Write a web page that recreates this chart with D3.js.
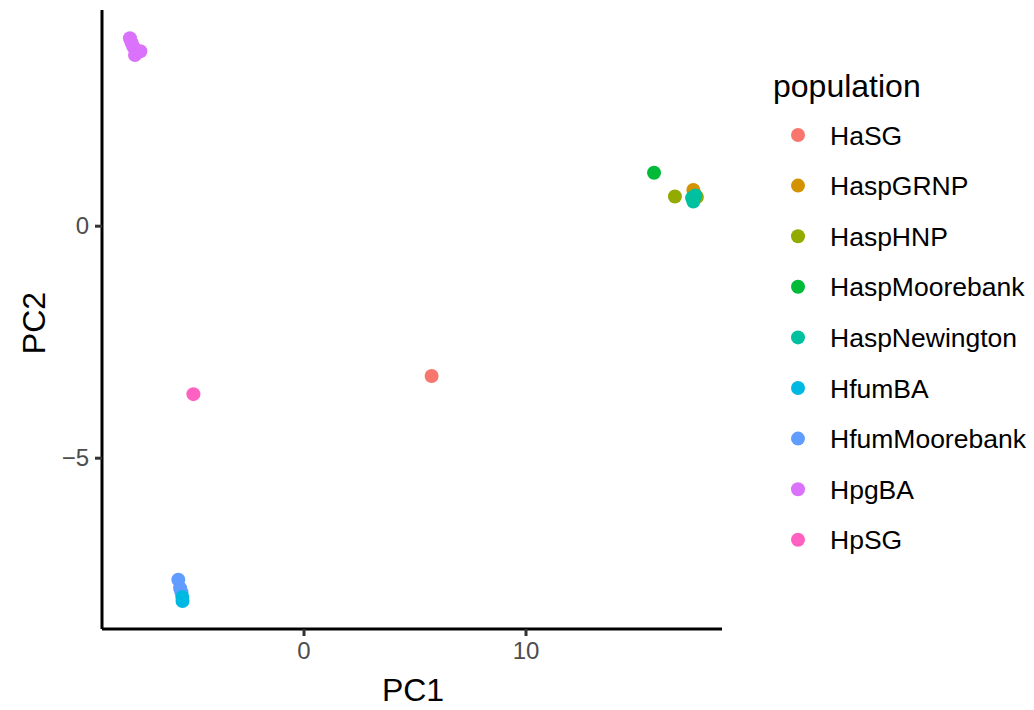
<!DOCTYPE html>
<html>
<head>
<meta charset="utf-8">
<script src="https://cdn.jsdelivr.net/npm/d3@7"></script>
<style>
  body { margin: 0; background: #fff; }
  text { font-family: "Liberation Sans", Arial, sans-serif; }
</style>
</head>
<body>
<div id="chart"></div>
<script>
// populations and their colours (ggplot hue palette)
var populations = ['HaSG', 'HaspGRNP', 'HaspHNP', 'HaspMoorebank', 'HaspNewington',
  'HfumBA', 'HfumMoorebank', 'HpgBA', 'HpSG']
var colours = ['#F8766D', '#D39200', '#93AA00', '#00BA38', '#00C19F',
  '#00B9E3', '#619CFF', '#DB72FB', '#FF61C3']

// PCA scores
var pointPop = ['HpgBA', 'HpgBA', 'HpgBA', 'HpgBA', 'HpgBA',
  'HfumMoorebank', 'HfumMoorebank', 'HfumMoorebank', 'HfumBA', 'HfumBA',
  'HpSG', 'HaSG', 'HaspMoorebank', 'HaspHNP', 'HaspGRNP', 'HaspGRNP',
  'HaspHNP', 'HaspNewington', 'HaspNewington', 'HaspNewington']
var pc1 = [-7.82, -7.75, -7.67, -7.59, -7.35,
  -5.64, -5.56, -5.50, -5.46, -5.45,
  -4.96, 5.77, 15.79, 16.73, 17.56, 17.62,
  17.72, 17.50, 17.56, 17.65]
var pc2 = [4.04, 3.95, 3.86, 3.68, 3.76,
  -7.63, -7.81, -7.90, -8.00, -8.09,
  -3.63, -3.24, 1.14, 0.63, 0.77, 0.68,
  0.62, 0.60, 0.52, 0.65]

var xTicks = [0, 10]
var yTicks = [0, -5]

var svg = d3.select('#chart')
  .append('svg')
  .attr('width', 1034)
  .attr('height', 710)

var x = d3.scaleLinear().domain([-9.077, 18.851]).range([102, 722])
var y = d3.scaleLinear().domain([-8.692, 4.649]).range([629, 10])
var color = d3.scaleOrdinal().domain(populations).range(colours)

// points
svg.append('g')
  .selectAll('circle')
  .data(pc1)
  .enter()
  .append('circle')
  .attr('cx', function (d) { return x(d) })
  .attr('cy', function (d, i) { return y(pc2[i]) })
  .attr('r', 7)
  .attr('fill', function (d, i) { return color(pointPop[i]) })

// x axis
var xAxis = svg.append('g')
  .attr('transform', 'translate(0,629)')
  .call(d3.axisBottom(x).tickValues(xTicks).tickSize(7).tickPadding(6).tickFormat(d3.format('d')))
xAxis.select('.domain').attr('stroke', '#000').attr('stroke-width', 3).attr('d', 'M102,0H722')
xAxis.selectAll('.tick line').attr('stroke', '#333').attr('stroke-width', 3)
xAxis.selectAll('.tick text').attr('fill', '#4D4D4D').style('font-size', '24px')
  .style('font-family', '"Liberation Sans", Arial, sans-serif')

// y axis
var yAxis = svg.append('g')
  .attr('transform', 'translate(102,0)')
  .call(d3.axisLeft(y).tickValues(yTicks).tickSize(7).tickPadding(6)
    .tickFormat(function (d) { return d < 0 ? '\u2212' + Math.abs(d) : d }))
yAxis.select('.domain').attr('stroke', '#000').attr('stroke-width', 3).attr('d', 'M0,10V629')
yAxis.selectAll('.tick line').attr('stroke', '#333').attr('stroke-width', 3)
yAxis.selectAll('.tick text').attr('fill', '#4D4D4D').style('font-size', '24px')
  .style('font-family', '"Liberation Sans", Arial, sans-serif')

// axis titles
svg.append('text')
  .attr('x', 413)
  .attr('y', 701)
  .attr('text-anchor', 'middle')
  .style('font-size', '32px')
  .text('PC1')

svg.append('text')
  .attr('transform', 'translate(45,323) rotate(-90)')
  .attr('text-anchor', 'middle')
  .style('font-size', '32px')
  .text('PC2')

// legend
var legend = svg.append('g')
legend.append('text')
  .attr('x', 773)
  .attr('y', 97)
  .style('font-size', '32px')
  .text('population')

var rows = legend.selectAll('.row')
  .data(populations)
  .enter()
  .append('g')
  .attr('class', 'row')
  .attr('transform', function (d, i) { return 'translate(0,' + (135 + i * 50.6) + ')' })

rows.append('circle')
  .attr('cx', 798)
  .attr('cy', 0)
  .attr('r', 7)
  .attr('fill', function (d) { return color(d) })

rows.append('text')
  .attr('x', 830)
  .attr('y', 9.5)
  .style('font-size', '26.5px')
  .text(function (d) { return d })
</script>
</body>
</html>
